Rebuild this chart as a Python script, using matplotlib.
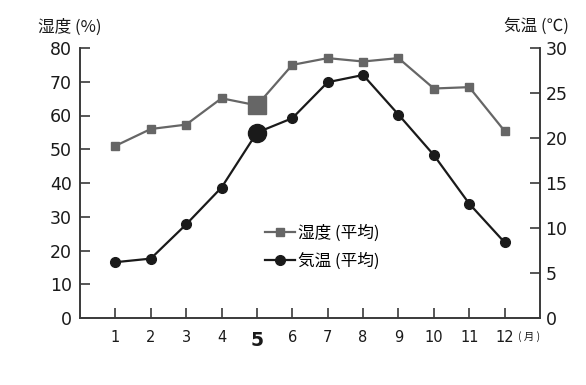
import matplotlib
matplotlib.use("Agg")
import matplotlib.pyplot as plt
from matplotlib.lines import Line2D

months = list(range(1, 13))
month_labels = [str(m) for m in months]
humidity = [51, 56, 57.3, 65.1, 63, 75, 77, 76, 77, 68, 68.4, 55.4]
temperature = [6.2, 6.6, 10.4, 14.5, 20.6, 22.2, 26.2, 27.0, 22.6, 18.1, 12.7, 8.4]
highlight = 5

hum_color = "#666666"
tmp_color = "#1a1a1a"
axis_color = "#3a3a3a"
num_font = "DejaVu Sans"
jp_font = ["Noto Sans CJK JP", "DejaVu Sans"]

fig = plt.figure(figsize=(5.86, 3.85), dpi=100)
ax = fig.add_axes([80 / 586, 67 / 385, 460 / 586, 270 / 385])
ax2 = ax.twinx()

ax.plot(months, humidity, color=hum_color, lw=1.6, marker="s", ms=6,
        mec=hum_color, mfc=hum_color, zorder=3)
ax2.plot(months, temperature, color=tmp_color, lw=1.6, marker="o", ms=7,
         mec=tmp_color, mfc=tmp_color, zorder=3)
i = months.index(highlight)
ax.plot([highlight], [humidity[i]], marker="s", ms=13, color=hum_color, zorder=4)
ax2.plot([highlight], [temperature[i]], marker="o", ms=13, color=tmp_color, zorder=4)

ax.set_xlim(0, 13)
ax.set_ylim(0, 80)
ax2.set_ylim(0, 30)
ax.set_yticks(range(0, 81, 10))
ax2.set_yticks(range(0, 31, 5))
ax.set_xticks(months)
ax.set_xticklabels(month_labels)

for a in (ax, ax2):
    a.spines["top"].set_visible(False)
    for s in ("left", "right", "bottom"):
        a.spines[s].set_color(axis_color)
        a.spines[s].set_linewidth(1.2)
    a.tick_params(direction="in", length=7, width=1.2, color=axis_color,
                  labelcolor="#1a1a1a")
ax.tick_params(axis="y", labelsize=12.5, pad=6)
ax2.tick_params(axis="y", labelsize=12.5, pad=4)
ax.tick_params(axis="x", labelsize=10.5, pad=9)
for lab in ax.get_yticklabels() + ax2.get_yticklabels() + ax.get_xticklabels():
    lab.set_fontfamily(num_font)
xl = ax.get_xticklabels()[i]
xl.set_fontsize(13.5)
xl.set_fontweight("bold")

fig.text(38 / 586, 1 - 27 / 385, "湿度 (%)", family=jp_font, fontsize=12,
         ha="left", va="center", color="#1a1a1a")
fig.text(569 / 586, 1 - 27 / 385, "気温 (℃)", family=jp_font, fontsize=12,
         ha="right", va="center", color="#1a1a1a")
fig.text(518 / 586, 1 - 337 / 385, "( 月 )", family=jp_font, fontsize=7.5,
         ha="left", va="center", color="#1a1a1a")

handles = [
    Line2D([], [], color=hum_color, lw=1.6, marker="s", ms=6),
    Line2D([], [], color=tmp_color, lw=1.6, marker="o", ms=7),
]
leg = ax.legend(handles, ["湿度 (平均)", "気温 (平均)"], frameon=False,
                loc="upper left", bbox_to_anchor=(265 / 586, 1 - 225 / 385),
                bbox_transform=fig.transFigure, handlelength=1.8,
                handletextpad=0.18, labelspacing=0.62, borderpad=0,
                borderaxespad=0, prop={"family": jp_font, "size": 12})

fig.savefig("out.png", dpi=100)
